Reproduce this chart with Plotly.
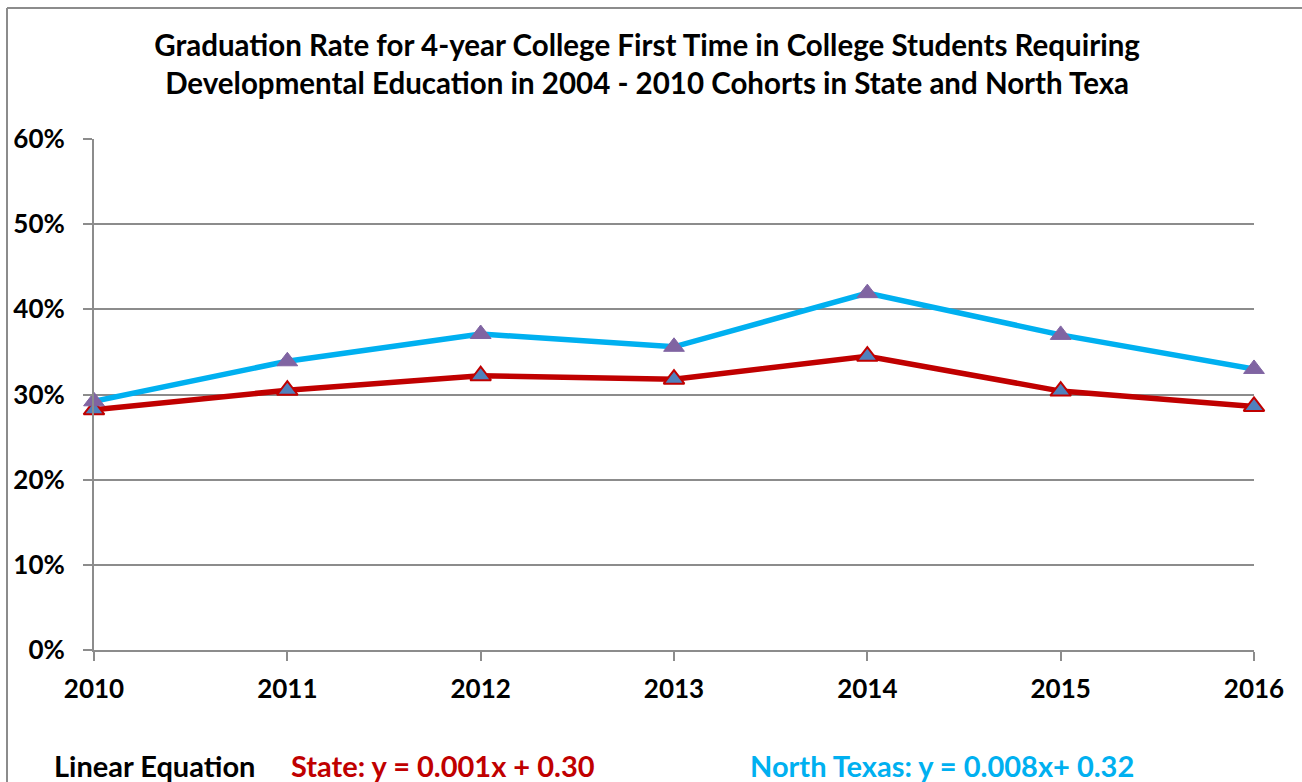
import plotly.graph_objects as go

years = ["2010", "2011", "2012", "2013", "2014", "2015", "2016"]
north_texas = [0.292, 0.339, 0.371, 0.356, 0.419, 0.370, 0.330]
state = [0.282, 0.305, 0.322, 0.318, 0.345, 0.304, 0.286]
y_ticks = [0, 0.1, 0.2, 0.3, 0.4, 0.5, 0.6]
y_tick_labels = ["0%", "10%", "20%", "30%", "40%", "50%", "60%"]

title_text = ("Graduation Rate for 4-year College First Time in College Students Requiring<br>"
              "Developmental Education in 2004 - 2010 Cohorts in State and North Texa")

FONT = "Lato"

fig = go.Figure()
fig.add_trace(go.Scatter(
    x=list(range(len(years))), y=state, mode="lines+markers", name="State",
    cliponaxis=False,
    line=dict(color="#C00000", width=5.5),
    marker=dict(symbol="triangle-up", size=18, color="#4F81BD",
                line=dict(color="#C00000", width=2)),
))
fig.add_trace(go.Scatter(
    x=list(range(len(years))), y=north_texas, mode="lines+markers", name="North Texas",
    cliponaxis=False,
    line=dict(color="#00B0F0", width=5.5),
    marker=dict(symbol="triangle-up", size=18, color="#8064A2",
                line=dict(color="#8064A2", width=1)),
))

L, R, T, B = 94, 48, 139, 132
W, H = 1302, 782
pw, ph = W - L - R, H - T - B

def px_x(p):
    return (p - L) / pw

def px_y(p):
    return (H - B - p) / ph

fig.update_layout(
    width=W, height=H,
    margin=dict(l=L, r=R, t=T, b=B),
    paper_bgcolor="white", plot_bgcolor="white",
    showlegend=False,
    font=dict(family=FONT, color="black"),
    title=dict(text=title_text, x=0.497, xanchor="center", y=0.929, yanchor="middle",
               font=dict(family=FONT, size=29.5, color="black", weight="bold")),
    xaxis=dict(
        range=[0, len(years) - 1], tickmode="array",
        tickvals=list(range(len(years))), ticktext=years,
        showgrid=False, showline=True, linecolor="#8C8C8C", linewidth=2,
        ticks="outside", ticklen=9, tickcolor="#8C8C8C", tickwidth=2,
        ticklabelstandoff=6,
        tickfont=dict(family=FONT, size=26, color="black", weight="bold"),
        zeroline=False, fixedrange=True,
    ),
    yaxis=dict(
        range=[0, 0.6], tickmode="array", tickvals=y_ticks, ticktext=y_tick_labels,
        showgrid=True, gridcolor="#8C8C8C", gridwidth=2,
        showline=True, linecolor="#8C8C8C", linewidth=2,
        ticks="outside", ticklen=9, tickcolor="#8C8C8C", tickwidth=2,
        ticklabelstandoff=13,
        tickfont=dict(family=FONT, size=26, color="black", weight="bold"),
        zeroline=False, fixedrange=True,
    ),
)

# outer chart border (left and top)
fig.add_shape(type="line", xref="paper", yref="paper",
              x0=px_x(7), x1=px_x(1310), y0=px_y(8), y1=px_y(8),
              line=dict(color="#8C8C8C", width=2))
fig.add_shape(type="line", xref="paper", yref="paper",
              x0=px_x(7), x1=px_x(7), y0=px_y(8), y1=px_y(800),
              line=dict(color="#8C8C8C", width=2))

ann_y = px_y(765)
fig.add_annotation(text="Linear Equation", xref="paper", yref="paper",
                   x=px_x(52), y=ann_y, xanchor="left", yanchor="middle", showarrow=False,
                   font=dict(family=FONT, size=29, color="black", weight="bold"))
fig.add_annotation(text="State: y = 0.001x + 0.30", xref="paper", yref="paper",
                   x=px_x(289), y=ann_y, xanchor="left", yanchor="middle", showarrow=False,
                   font=dict(family=FONT, size=29, color="#C00000", weight="bold"))
fig.add_annotation(text="North Texas: y = 0.008x+ 0.32", xref="paper", yref="paper",
                   x=px_x(748), y=ann_y, xanchor="left", yanchor="middle", showarrow=False,
                   font=dict(family=FONT, size=29, color="#00B0F0", weight="bold"))

fig.write_html("out.html")
